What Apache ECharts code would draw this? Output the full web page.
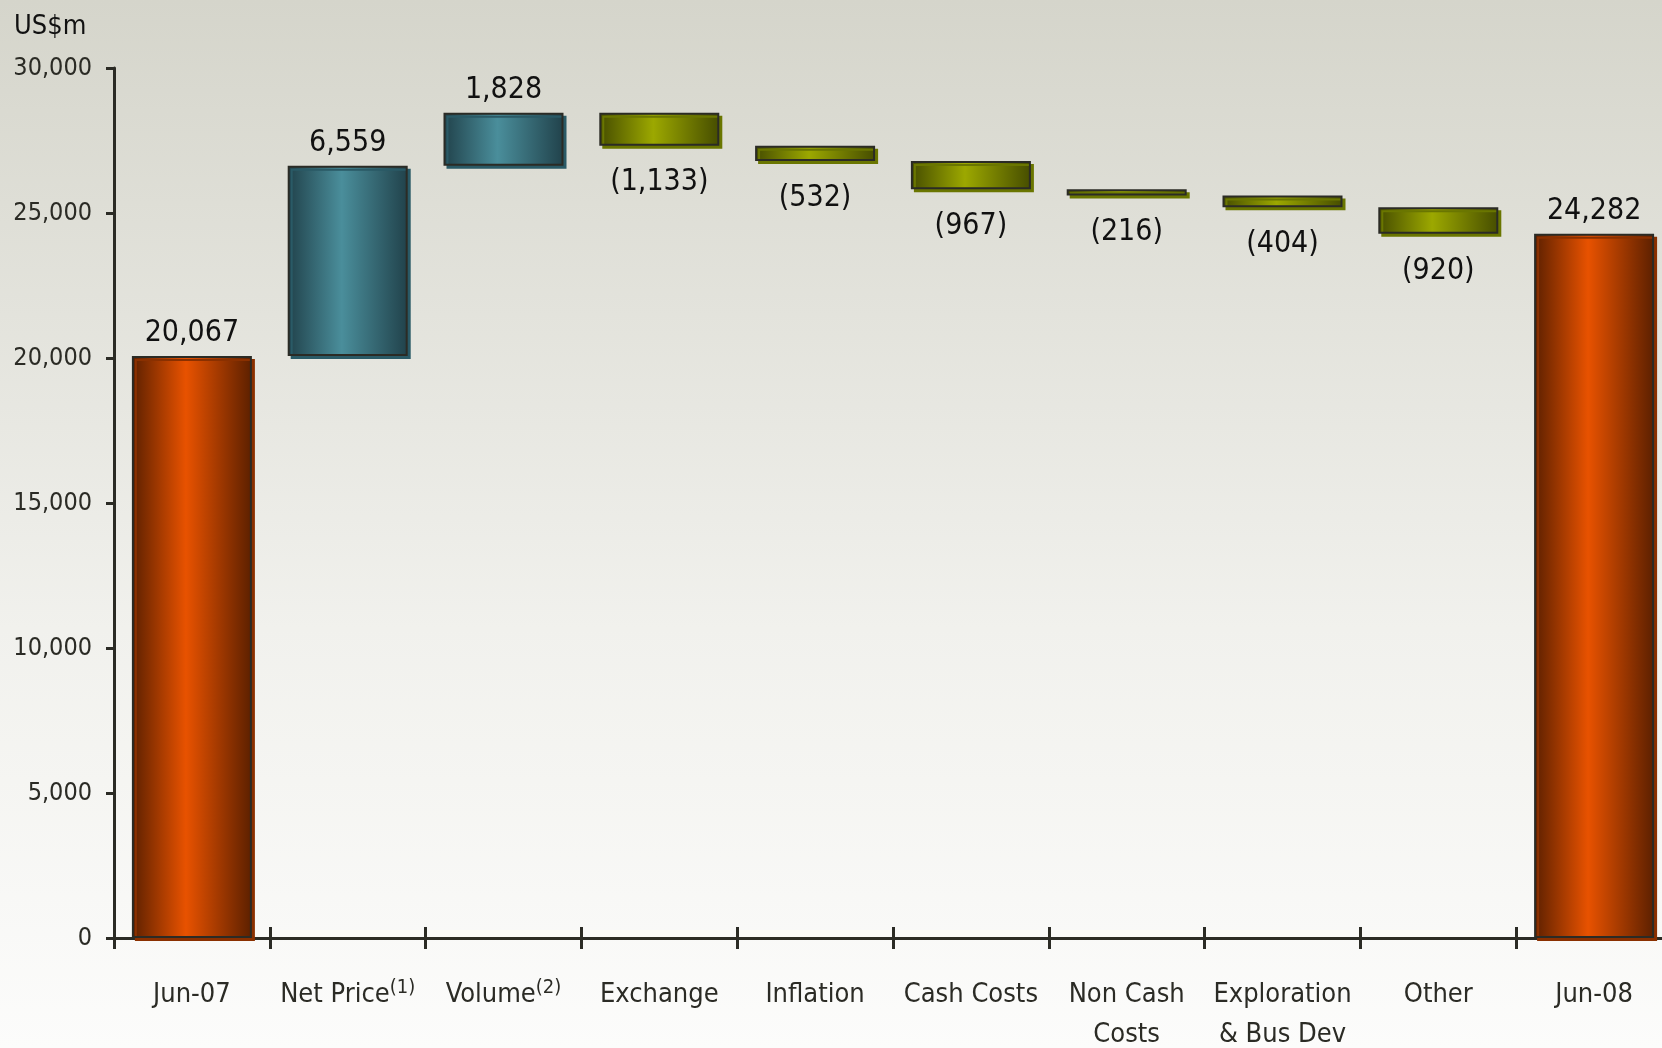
<!DOCTYPE html>
<html>
<head>
<meta charset="utf-8">
<script src="https://cdn.jsdelivr.net/npm/echarts@6/dist/echarts.min.js"></script>
<style>
  html, body { margin: 0; padding: 0; overflow: hidden; }
  #main { width: 1662px; height: 1048px; }
</style>
</head>
<body>
<div id="main"></div>
<script>
// waterfall, US$m
const categories = ['Jun-07', 'Net Price{sup|(1)}', 'Volume{sup|(2)}', 'Exchange', 'Inflation',
    'Cash Costs', 'Non Cash\nCosts', 'Exploration\n& Bus Dev', 'Other', 'Jun-08'];
const startValue = 20067;
const endValue = 24282;
const changes = [6559, 1828, -1133, -532, -967, -216, -404, -920];
const yTicks = [0, 5000, 10000, 15000, 20000, 25000, 30000];

const font = '"Liberation Sans Narrow", "DejaVu Sans Condensed", sans-serif';
const ink = '#2b2b25';

function grad(edge, mid) {
    return new echarts.graphic.LinearGradient(0, 0, 1, 0, [
        { offset: 0, color: edge },
        { offset: 0.45, color: mid },
        { offset: 1, color: edge }
    ]);
}

const styles = {
    total: { color: grad('#5c2000', '#e85200'), shadow: '#8a3000' },
    up: { color: grad('#21424b', '#4a8e9b'), shadow: '#2a5a66' },
    down: { color: grad('#464d00', '#9ca800'), shadow: '#6a7600' }
};

function fmt(v) {
    const s = Math.abs(v).toLocaleString('en-US');
    return v < 0 ? '(' + s + ')' : s;
}

// build base + visible parts
const baseData = [];
const barData = [];
function pushBar(base, height, kind, labelVal, below) {
    const st = styles[kind];
    baseData.push(base);
    barData.push({
        value: height,
        labelText: fmt(labelVal),
        itemStyle: {
            color: st.color,
            borderColor: ink,
            borderWidth: 2,
            shadowColor: st.shadow,
            shadowOffsetX: 3,
            shadowOffsetY: 3,
            shadowBlur: 0
        },
        label: below ? { position: 'bottom', distance: 22 } : { position: 'top', distance: 8 }
    });
}

pushBar(0, startValue, 'total', startValue, false);
let running = startValue;
changes.forEach(function (d) {
    const next = running + d;
    pushBar(Math.min(running, next), Math.abs(d), d >= 0 ? 'up' : 'down', d, d < 0);
    running = next;
});
pushBar(0, endValue, 'total', endValue, false);

const chart = echarts.init(document.getElementById('main'));

const option = {
    backgroundColor: new echarts.graphic.LinearGradient(0, 0, 0, 1, [
        { offset: 0, color: '#d5d5cb' },
        { offset: 0.6, color: '#f1f1ed' },
        { offset: 1, color: '#fcfcfb' }
    ]),
    animation: false,
    title: {
        text: 'US$m',
        left: 9,
        top: 8,
        textStyle: { fontFamily: font, fontSize: 27, fontWeight: 'normal', color: '#111' }
    },
    grid: { left: 114, right: -10, top: 68, bottom: 110, containLabel: false, outerBoundsMode: 'none' },
    xAxis: [{
        type: 'category',
        data: categories,
        axisLine: { lineStyle: { color: ink, width: 3 } },
        axisTick: { show: true, length: 11, lineStyle: { color: ink, width: 3 } },
        axisLabel: {
            interval: 0,
            margin: 37,
            fontFamily: font,
            fontSize: 27,
            color: ink,
            lineHeight: 40,
            rich: {
                sup: { fontFamily: font, fontSize: 20, color: ink, padding: [0, 0, 14, 0] }
            }
        }
    }, {
        type: 'category',
        data: categories,
        position: 'bottom',
        axisLine: { show: false },
        axisTick: { show: true, inside: true, length: 11, lineStyle: { color: ink, width: 3 } },
        axisLabel: { show: false }
    }],
    yAxis: {
        type: 'value',
        min: yTicks[0],
        max: yTicks[yTicks.length - 1],
        interval: yTicks[1] - yTicks[0],
        splitLine: { show: false },
        axisLine: { show: true, lineStyle: { color: ink, width: 3 } },
        axisTick: { show: true, length: 8, lineStyle: { color: ink, width: 3 } },
        axisLabel: {
            margin: 22,
            fontFamily: font,
            fontSize: 25,
            color: ink,
            formatter: function (v) { return v.toLocaleString('en-US'); }
        }
    },
    series: [{
        type: 'bar',
        stack: 'wf',
        data: baseData,
        barWidth: 120,
        itemStyle: { color: 'transparent' },
        silent: true
    }, {
        type: 'bar',
        stack: 'wf',
        data: barData,
        barWidth: 120,
        label: {
            show: true,
            fontFamily: font,
            fontSize: 30,
            color: '#111',
            formatter: function (p) { return p.data.labelText; }
        }
    }]
};

chart.setOption(option);
</script>
</body>
</html>
